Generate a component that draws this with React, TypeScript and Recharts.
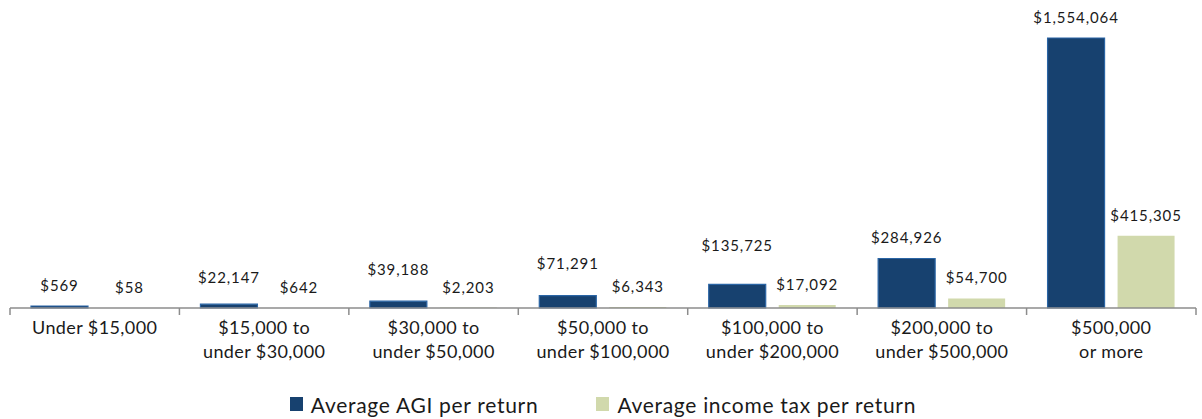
import React from 'react';
import { BarChart, Bar, XAxis, YAxis, Legend, LabelList } from 'recharts';

const categories = [
  'Under $15,000',
  '$15,000 to\nunder $30,000',
  '$30,000 to\nunder $50,000',
  '$50,000 to\nunder $100,000',
  '$100,000 to\nunder $200,000',
  '$200,000 to\nunder $500,000',
  '$500,000\nor more',
];
const avgAgi = [569, 22147, 39188, 71291, 135725, 284926, 1554064];
const avgTax = [58, 642, 2203, 6343, 17092, 54700, 415305];

// manual label nudges (px) the original had for the AGI labels
const agiLabelLift = [0, 6, 11, 12, 18, 0, 0];

const AGI_COLOR = '#17416F';
const AGI_BORDER = '#2A65A5';
const TAX_COLOR = '#D1D9AC';
const TEXT = '#1a1a1a';
const FONT = 'Lato, "Open Sans", sans-serif';

const WIDTH = 1202;
const HEIGHT = 419;
const MARGIN = { top: 30, right: 6, left: 10, bottom: 0 };
const BAND = (WIDTH - MARGIN.left - MARGIN.right) / categories.length;

const data = categories.map((name, i) => ({
  name,
  agi: avgAgi[i],
  tax: avgTax[i],
}));

const money = (v: number) => '$' + v.toLocaleString('en-US');

function CategoryTick(props: any) {
  const { x, y, payload, index } = props;
  const lines = String(payload.value).split('\n');
  return (
    <g>
      <line x1={x - BAND / 2} y1={y} x2={x - BAND / 2} y2={y + 7} stroke="#8c8c8c" strokeWidth={1.5} />
      {index === categories.length - 1 && (
        <line x1={x + BAND / 2} y1={y} x2={x + BAND / 2} y2={y + 7} stroke="#8c8c8c" strokeWidth={1.5} />
      )}
      <text x={x} y={y + 26} textAnchor="middle" fill={TEXT} fontSize={18} fontFamily={FONT} letterSpacing={0.4}>
        {lines.map((l, k) => (
          <tspan key={k} x={x} dy={k === 0 ? 0 : 24}>
            {l}
          </tspan>
        ))}
      </text>
    </g>
  );
}

function makeLabel(lift: number[] | null) {
  return (props: any) => {
    const { x, y, width, value, index } = props;
    const up = lift ? lift[index] : 0;
    return (
      <text
        x={x + width / 2}
        y={y - 15 - up}
        textAnchor="middle"
        fill={TEXT}
        fontSize={15}
        fontFamily={FONT}
        letterSpacing={0.9}
      >
        {money(value)}
      </text>
    );
  };
}

function LegendBox() {
  const items = [
    { label: 'Average AGI per return', color: AGI_COLOR },
    { label: 'Average income tax per return', color: TAX_COLOR },
  ];
  return (
    <div style={{ display: 'flex', justifyContent: 'center', gap: 58, height: 30, alignItems: 'center', paddingTop: 8 }}>
      {items.map((it) => (
        <div key={it.label} style={{ display: 'flex', alignItems: 'center' }}>
          <span style={{ width: 13, height: 14, background: it.color, display: 'inline-block', marginRight: 8 }} />
          <span style={{ fontFamily: FONT, fontSize: 21, color: TEXT, letterSpacing: 0.7 }}>{it.label}</span>
        </div>
      ))}
    </div>
  );
}

export default function App() {
  return (
    <div style={{ position: 'absolute', left: 0, top: 0, width: WIDTH, height: HEIGHT, background: '#fff' }}>
      <BarChart width={WIDTH} height={HEIGHT} data={data} margin={MARGIN} barCategoryGap={21} barGap={13}>
        <XAxis
          dataKey="name"
          interval={0}
          tickLine={false}
          tickSize={0}
          tickMargin={0}
          height={73}
          axisLine={{ stroke: '#8c8c8c', strokeWidth: 1.5 }}
          tick={<CategoryTick />}
        />
        <YAxis hide domain={[0, 1600000]} />
        <Legend verticalAlign="bottom" height={38} content={<LegendBox />} />
        <Bar dataKey="agi" fill={AGI_COLOR} stroke={AGI_BORDER} strokeWidth={1.2} minPointSize={2} isAnimationActive={false}>
          <LabelList dataKey="agi" content={makeLabel(agiLabelLift)} />
        </Bar>
        <Bar dataKey="tax" fill={TAX_COLOR} isAnimationActive={false}>
          <LabelList dataKey="tax" content={makeLabel(null)} />
        </Bar>
      </BarChart>
    </div>
  );
}
